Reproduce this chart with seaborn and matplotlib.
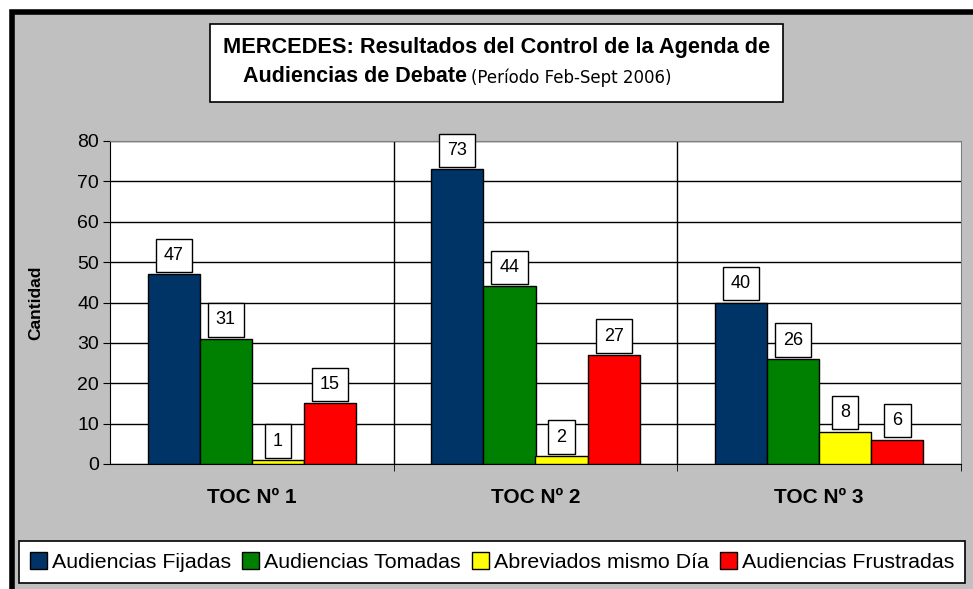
import pandas as pd
import matplotlib.pyplot as plt
import seaborn as sns
from matplotlib.patches import Rectangle

# data
tribunales = ['TOC Nº 1', 'TOC Nº 2', 'TOC Nº 3']
series = ['Audiencias Fijadas', 'Audiencias Tomadas', 'Abreviados mismo Día', 'Audiencias Frustradas']
fijadas = [47, 73, 40]
tomadas = [31, 44, 26]
abreviados = [1, 2, 8]
frustradas = [15, 27, 6]
colores = ['#003366', '#008000', '#FFFF00', '#FF0000']

df = pd.DataFrame({
    'tribunal': tribunales * 4,
    'serie': [s for s in series for _ in tribunales],
    'cantidad': fijadas + tomadas + abreviados + frustradas,
})

sns.set_style('white')
plt.rcParams['font.family'] = ['Liberation Sans', 'DejaVu Sans']
plt.rcParams.update({'text.color': 'black', 'axes.labelcolor': 'black',
                     'xtick.color': 'black', 'ytick.color': 'black'})

W, H = 973, 589
fig = plt.figure(figsize=(W / 100, H / 100), dpi=100)
fig.patch.set_facecolor('white')

# gray chart area with black frame (cut off at right and bottom)
fig.patches.append(Rectangle((12 / W, -0.1), 1.2, 1 - 12 / H + 0.1, transform=fig.transFigure,
                             facecolor='#C0C0C0', edgecolor='black', linewidth=4, zorder=-10))

ax = fig.add_axes([110 / W, 1 - 464 / H, (961 - 110) / W, (464 - 141) / H])
ax.set_facecolor('white')

sns.barplot(data=df, x='tribunal', y='cantidad', hue='serie', palette=colores,
            width=0.735, edgecolor='black', linewidth=1, saturation=1, ax=ax, zorder=3)

for cont in ax.containers:
    ax.bar_label(cont, padding=7.5, fontsize=13,
                 bbox=dict(boxstyle='square,pad=0.45', facecolor='white', edgecolor='black', linewidth=1))

ax.set_ylim(0, 80)
ax.set_xlim(-0.5, 2.5)
ax.set_yticks(range(0, 81, 10))
ax.tick_params(axis='y', labelsize=14, length=5, left=True, direction='out', pad=3)
ax.tick_params(axis='x', which='major', length=0, pad=17)
ax.set_xticks([0.5, 1.5, 2.5], minor=True)
ax.tick_params(axis='x', which='minor', length=5, bottom=True, direction='out')
for lbl in ax.get_xticklabels():
    lbl.set_fontweight('bold')
    lbl.set_fontsize(15)

ax.grid(axis='y', color='black', linewidth=1, zorder=1)
for xv in [0.5, 1.5]:
    ax.axvline(xv, color='black', linewidth=1, zorder=1)
for side in ['left', 'bottom']:
    ax.spines[side].set_color('black')
for side in ['top', 'right']:
    ax.spines[side].set_color('#808080')
    ax.spines[side].set_visible(True)

ax.set_xlabel('')
ax.set_ylabel('Cantidad', fontsize=12.5, fontweight='bold')
ax.yaxis.set_label_coords(-0.078, 0.5)

# title box
fig.patches.append(Rectangle((210 / W, 1 - 102 / H), (783 - 210) / W, 78 / H, transform=fig.transFigure,
                             facecolor='white', edgecolor='black', linewidth=1.2, zorder=1))
fig.text(497 / W, 1 - 47 / H, 'MERCEDES: Resultados del Control de la Agenda de',
         ha='center', va='center', fontsize=15.7, fontweight='bold')
fig.text(467 / W, 1 - 77 / H, 'Audiencias de Debate', ha='right', va='center',
         fontsize=15.5, fontweight='bold')
fig.text(471 / W, 1 - 78 / H, '(Período Feb-Sept 2006)', ha='left', va='center', fontsize=12,
         family='DejaVu Sans')

# legend at the bottom
handles, labels = ax.get_legend_handles_labels()
ax.get_legend().remove()
leg = fig.legend(handles, labels, loc='center', bbox_to_anchor=(492 / W, 1 - 562 / H), ncol=4,
                 fontsize=15.4, frameon=True, fancybox=False, edgecolor='black', framealpha=1,
                 handlelength=0.8, handleheight=0.8, handletextpad=0.25, columnspacing=0.5,
                 borderpad=0.5)
leg.get_frame().set_linewidth(1.2)

fig.savefig('out.png', dpi=100)
